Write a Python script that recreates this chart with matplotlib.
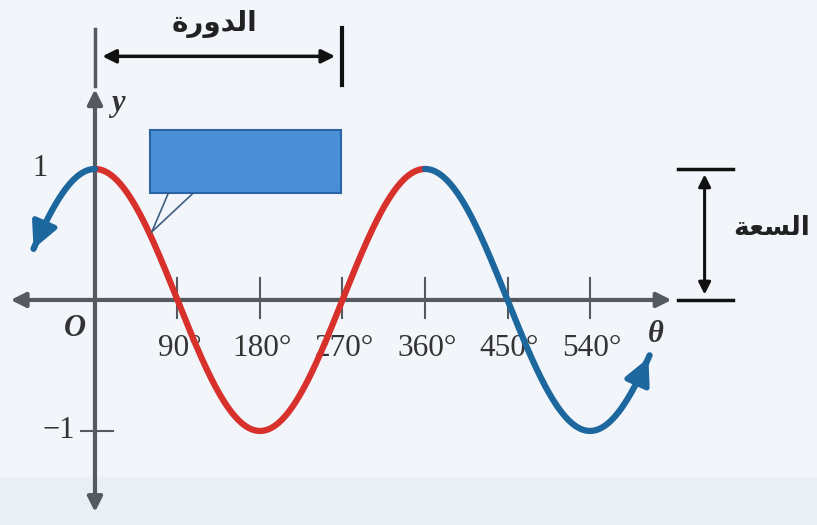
import numpy as np
from matplotlib import pyplot as plt
from matplotlib.patches import Rectangle

# y = cos(theta), one period drawn in red, the continuation in blue
amplitude = 1
red_span = [0, 360]
blue_left_span = [-67, 0]
blue_right_span = [360, 605]
tick_degrees = [90, 180, 270, 360, 450, 540]
tick_labels = ['90°', '180°', '270°', '360°', '450°', '540°']
period_span = [0, 270]
period_label = '\ufe93\ufead\ufeed\ufeaa\ufedf\ufe8d'      # الدورة
amplitude_label = '\ufe94\ufecc\ufeb4\ufedf\ufe8d'         # السعة

red = '#d8312c'
blue = '#1d679f'
axis_gray = '#555a60'

fig = plt.figure(figsize=(8.17, 5.25), dpi=100)
fig.patch.set_facecolor('#f2f5fa')
ax = fig.add_axes([0, 0, 1, 1])
ax.set_xlim(-103.6, 787.6)
ax.set_ylim(-1.718, 2.29)
ax.axis('off')
ax.add_patch(Rectangle((-103.6, -1.718), 891.2, 0.37, color='#eaeff6', zorder=0))

def curve(a, b):
    t = np.linspace(a, b, 300)
    return t, amplitude * np.cos(np.radians(t))

# axes
ax.annotate('', xy=(-95, 0), xytext=(632, 0),
            arrowprops=dict(arrowstyle='<|-|>', color=axis_gray, lw=3, mutation_scale=22))
ax.annotate('', xy=(0, -1.64), xytext=(0, 1.63),
            arrowprops=dict(arrowstyle='<|-|>', color=axis_gray, lw=3, mutation_scale=22))
ax.plot([0, 0], [1.63, 2.07], color=axis_gray, lw=2.5)

for d, lab in zip(tick_degrees, tick_labels):
    ax.plot([d, d], [-0.14, 0.17], color=axis_gray, lw=1.5)
    ax.text(d + 2, -0.37, lab, ha='center', va='center', fontsize=22.5,
            family='Liberation Serif', color='#333333')
ax.plot([-15, 20], [-amplitude, -amplitude], color=axis_gray, lw=1.5)
ax.text(-22, -amplitude, '−1', ha='right', va='center', fontsize=22,
        family='Liberation Serif', color='#333333')
ax.text(-60, amplitude, '1', ha='center', va='center', fontsize=22,
        family='Liberation Serif', color='#333333')
ax.text(-22, -0.22, 'O', ha='center', va='center', fontsize=22, style='italic',
        weight='bold', family='Liberation Serif', color='#333333')
ax.text(612, -0.26, 'θ', ha='center', va='center', fontsize=22, style='italic',
        weight='bold', family='Liberation Serif', color='#333333')
ax.text(25, 1.50, 'y', ha='center', va='center', fontsize=22, style='italic',
        weight='bold', family='Liberation Serif', color='#333333')

# curve
x, y = curve(*red_span)
ax.plot(x, y, color=red, lw=4.5, solid_capstyle='round', zorder=3)
for span, head_at_start in [(blue_left_span, True), (blue_right_span, False)]:
    x, y = curve(*span)
    ax.plot(x, y, color=blue, lw=4.5, solid_capstyle='round', zorder=3)
    if head_at_start:
        tip, tail = (x[0], y[0]), (x[6], y[6])
    else:
        tip, tail = (x[-1], y[-1]), (x[-7], y[-7])
    ax.annotate('', xy=tip, xytext=tail, zorder=4,
                arrowprops=dict(arrowstyle='-|>,head_length=0.6,head_width=0.3',
                                color=blue, lw=4, mutation_scale=26))

# period bracket
ax.annotate('', xy=(period_span[0] + 5, 1.86), xytext=(period_span[1] - 5, 1.86),
            arrowprops=dict(arrowstyle='<|-|>', color='#111111', lw=2.5, mutation_scale=20))
ax.plot([period_span[1]] * 2, [1.64, 2.08], color='#111111', lw=3)
ax.text(np.mean(period_span) - 5, 2.11, period_label, ha='center', va='center',
        fontsize=20, weight='bold', family='DejaVu Sans', color='#222222')

# amplitude bracket
for lev in [0, amplitude]:
    ax.plot([636, 696], [lev, lev], color='#111111', lw=2.5)
ax.annotate('', xy=(665, amplitude - 0.02), xytext=(665, 0.02),
            arrowprops=dict(arrowstyle='<|-|>', color='#111111', lw=2.2, mutation_scale=18))
ax.text(738, 0.55, amplitude_label, ha='center', va='center',
        fontsize=19, weight='bold', family='DejaVu Sans', color='#222222')

# callout box
ax.add_patch(Rectangle((60, 0.815), 268 - 60, 1.30 - 0.815, facecolor='#4a8ed6',
                       edgecolor='#2c64a8', lw=1.5, zorder=5))
ax.plot([80, 62], [0.815, 0.52], color='#3f5f80', lw=1.2, zorder=5)
ax.plot([107, 62], [0.815, 0.52], color='#3f5f80', lw=1.2, zorder=5)

fig.savefig('out.png', dpi=100, facecolor=fig.get_facecolor())
